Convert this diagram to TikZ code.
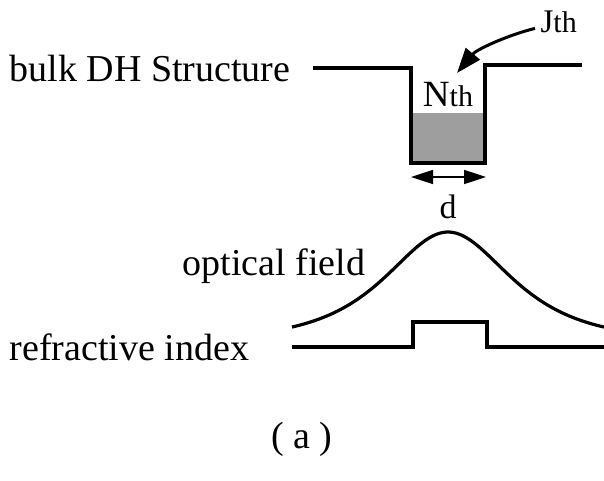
\documentclass[tikz,border=0pt]{standalone}
\usepackage{fontspec}
\setmainfont{Liberation Serif}
\usetikzlibrary{positioning, arrows.meta}

\newcommand{\bigtxt}{\fontsize{38}{42}\selectfont}

\begin{document}
\begin{tikzpicture}[x=1pt, y=-1pt, line width=3.2pt,
  every node/.style={inner sep=0pt},
  lbl/.style={font=\bigtxt, anchor=base west},
  widthtip/.style={{Triangle[length=22pt,width=14pt]}-{Triangle[length=22pt,width=14pt]}, line width=1.6pt},
  jarrow/.style={-{Triangle[length=25pt,width=18pt]}, line width=3pt}]
  \useasboundingbox (0,0) rectangle (604,481);

  % quantum well with carriers
  \fill[black!38] (411,113) rectangle (485,163);
  \draw[line join=miter] (313,68) -- (411,68) -- (411,163) -- (485,163) -- (485,65) -- (582,65);
  \node[lbl] (bulk) at (8,82) {bulk DH Structure};
  \node[anchor=base] (nth) at (448,107) {\fontsize{37}{40}\selectfont N\fontsize{30}{32}\selectfont th};
  \node[anchor=base west] (jth) at (539,33) {\fontsize{33}{36}\selectfont J\fontsize{30}{32}\selectfont th};
  \coordinate (jtip) at (457,73);
  \draw[jarrow] ([shift={(-4,6)}]jth.west) .. controls (505,36) and (476,50) .. (jtip);

  % width of the active layer
  \coordinate (dl) at (411,177);
  \coordinate (dr) at (486,177);
  \draw[widthtip] (dl) -- (dr);
  \node[anchor=base] (d) at (448,218) {\fontsize{34}{36}\selectfont d};

  % optical field and index profile
  \node[lbl] (field) at (181,275) {optical field};
  \draw plot[domain=292:604, samples=90, smooth] (\x, {340-108/cosh((\x-448)/55.5)});
  \node[lbl] (index) at (8,360) {refractive index};
  \draw[line join=miter] (292,347) -- (413,347) -- (413,322) -- (487,322) -- (487,347) -- (604,347);

  \node[anchor=base] (cap) at (302,448) {\bigtxt ( a )};
\end{tikzpicture}
\end{document}
